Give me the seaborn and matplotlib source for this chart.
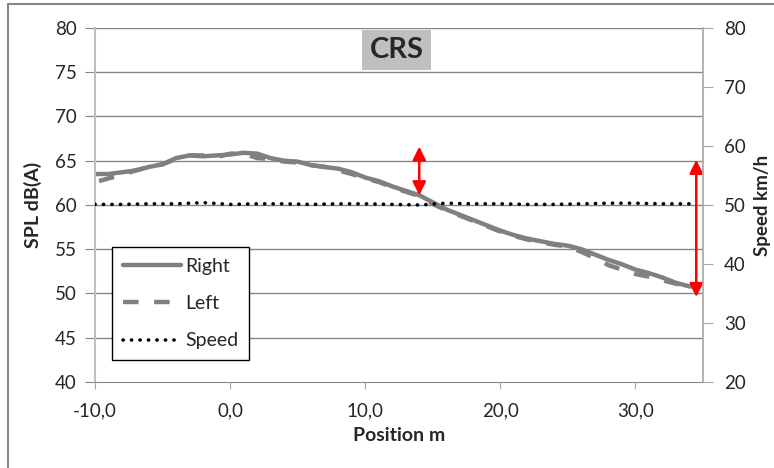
import numpy as np
import pandas as pd
import matplotlib.pyplot as plt
import seaborn as sns
from matplotlib.lines import Line2D

# Data
pos_right = [-10, -9, -8, -7, -6, -5, -4, -3, -2, -1, 0, 1, 2, 3, 4, 5, 6, 7, 8, 9, 10,
             11, 12, 13, 14, 15, 16, 17, 18, 19, 20, 21, 22, 23, 24, 25, 26, 27, 28,
             29, 30, 31, 32, 33, 34, 34.5]
spl_right = [63.5, 63.5, 63.7, 63.9, 64.3, 64.6, 65.3, 65.6, 65.5, 65.6, 65.7, 65.9, 65.8,
             65.3, 65.0, 64.9, 64.5, 64.3, 64.1, 63.7, 63.1, 62.7, 62.1, 61.6, 61.1, 60.3,
             59.5, 58.9, 58.3, 57.7, 57.1, 56.6, 56.2, 55.9, 55.6, 55.4, 55.0, 54.4, 53.8,
             53.3, 52.7, 52.3, 51.8, 51.2, 50.8, 50.8]

pos_left = [-9.7, -9, -8, -7, -6, -5, -4, -3, -2, -1, 0, 1, 2, 3, 4, 5, 6, 7, 8, 9, 10,
            11, 12, 13, 14, 15, 16, 17, 18, 19, 20, 21, 22, 23, 24, 25, 26, 27, 28,
            29, 30, 31, 32, 33, 34, 34.5]
spl_left = [62.7, 63.0, 63.4, 63.9, 64.3, 64.6, 65.2, 65.6, 65.6, 65.4, 65.8, 65.8, 65.3,
            65.2, 64.9, 64.8, 64.5, 64.3, 63.9, 63.5, 63.0, 62.6, 62.0, 61.5, 61.0, 60.1,
            59.4, 58.8, 58.2, 57.6, 57.0, 56.5, 56.1, 55.8, 55.5, 55.3, 54.7, 54.0, 53.2,
            52.7, 52.2, 51.9, 51.5, 51.1, 50.9, 50.8]

pos_speed = [-10, -8, -6, -4, -2, 0, 2, 4, 6, 8, 10, 12, 14, 16, 18, 20, 22, 24, 26, 28,
             30, 32, 34.5]
speed = [50.1, 50.1, 50.2, 50.2, 50.4, 50.1, 50.2, 50.2, 50.1, 50.2, 50.2, 50.1, 50.0,
         50.3, 50.2, 50.2, 50.1, 50.1, 50.2, 50.3, 50.3, 50.2, 50.2]

# red arrows (x, low, high) in dB(A)
arrow_x = [14.0, 34.5]
arrow_lo = [61.1, 49.6]
arrow_hi = [66.6, 65.1]

sns.set_style('white')
plt.rcParams['font.family'] = ['Lato', 'DejaVu Sans']

fig = plt.figure(figsize=(7.74, 4.68), dpi=100)
ax = fig.add_axes([0.1227, 0.1838, 0.7856, 0.7564])
ax2 = ax.twinx()

grey = '#808080'
sns.lineplot(x=pos_right, y=spl_right, ax=ax, color=grey, linewidth=3.2, legend=False)
sns.lineplot(x=pos_left, y=spl_left, ax=ax, color=grey, linewidth=3.2, legend=False)
ax.lines[-1].set_dashes((3.5, 3.5))
sns.lineplot(x=pos_speed, y=speed, ax=ax2, color='black', linewidth=2.6, legend=False)
ax2.lines[-1].set_linestyle((0, (0.05, 2.3)))
ax2.lines[-1].set_dash_capstyle('round')

ax.set_xlim(-10, 35)
ax.set_ylim(40, 80)
ax2.set_ylim(20, 80)
ax.set_xticks([-10, 0, 10, 20, 30])
ax.set_xticklabels(['-10,0', '0,0', '10,0', '20,0', '30,0'])
ax.set_yticks(range(40, 81, 5))
ax2.set_yticks(range(20, 81, 10))

for y in range(45, 81, 5):
    ax.axhline(y, color='#868686', linewidth=1, zorder=0)

for a in (ax, ax2):
    for s in a.spines.values():
        s.set_visible(False)
ax.spines['left'].set_visible(True)
ax.spines['left'].set_color('#bfbfbf')
ax.spines['left'].set_linewidth(1.5)
ax.spines['bottom'].set_visible(True)
ax.spines['bottom'].set_color('#868686')
ax2.spines['right'].set_visible(True)
ax2.spines['right'].set_color('#a6a6a6')
ax2.spines['right'].set_linewidth(1.2)

ax.tick_params(axis='y', direction='out', length=7, color='#868686', labelsize=13.5, pad=6, left=True)
ax.tick_params(axis='x', direction='out', length=5, color='#a6a6a6', labelsize=13.5, pad=10, bottom=True)
ax2.tick_params(axis='y', direction='out', length=7, color='#a6a6a6', labelsize=13.5, pad=8, right=True)

ax.set_xlabel('Position m', fontsize=14, fontweight='bold', labelpad=5)
ax.set_ylabel('SPL dB(A)', fontsize=14, fontweight='bold', labelpad=9)
ax2.set_ylabel('Speed km/h', fontsize=13.5, fontweight='bold', labelpad=6)

for x, lo, hi in zip(arrow_x, arrow_lo, arrow_hi):
    ax.annotate('', xy=(x, lo), xytext=(x, hi),
                arrowprops=dict(arrowstyle='<|-|>,head_length=0.8,head_width=0.4',
                                color='red', lw=1.8, shrinkA=0, shrinkB=0),
                zorder=5)

ax.text(0.496, 0.938, 'CRS', transform=ax.transAxes, ha='center', va='center',
        fontsize=21, fontweight='bold',
        bbox=dict(facecolor='#bfbfbf', edgecolor='none', boxstyle='square,pad=0.25'))

handles = [Line2D([], [], color=grey, linewidth=3.2),
           Line2D([], [], color=grey, linewidth=3.2, dashes=(3.5, 3.5)),
           Line2D([], [], color='black', linewidth=2.6, linestyle=(0, (0.05, 2.3)),
                  dash_capstyle='round')]
leg = ax2.legend(handles, ['Right', 'Left', 'Speed'], loc='lower left',
                 bbox_to_anchor=(0.028, 0.062), borderaxespad=0, fontsize=14,
                 handlelength=3.0, handletextpad=0.2, labelspacing=1.05,
                 fancybox=False, framealpha=1, borderpad=0.55)
leg.get_frame().set_edgecolor('black')
leg.get_frame().set_linewidth(1)

# outer chart border
fig.add_artist(Line2D([0.0105, 0.0105], [0, 0.991], color='#868686', linewidth=1.5))
fig.add_artist(Line2D([0.0105, 1], [0.991, 0.991], color='#868686', linewidth=1.5))

fig.savefig('out.png', dpi=100)
